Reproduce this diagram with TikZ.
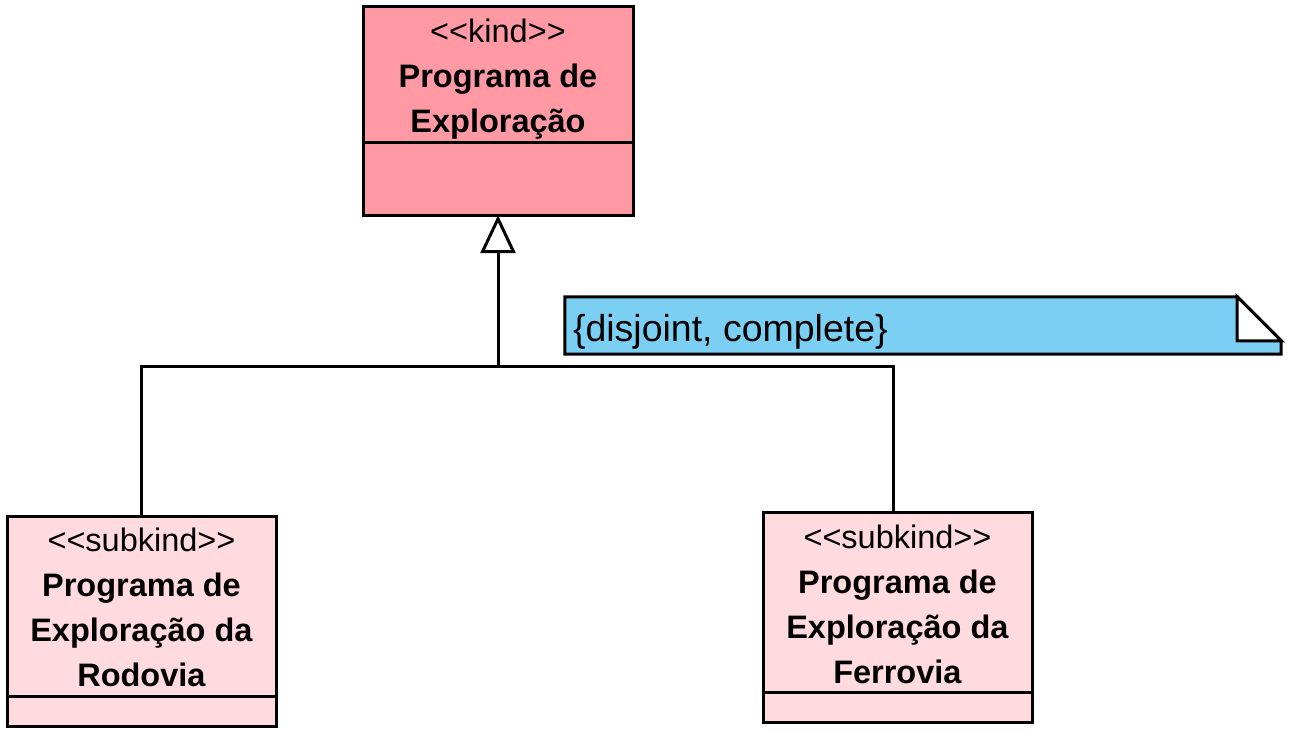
\documentclass[tikz,border=0pt]{standalone}
\usepackage{fontspec}
\setmainfont{Liberation Sans}
\usetikzlibrary{positioning, arrows.meta}
\definecolor{kindred}{RGB}{255,153,163}
\definecolor{subkindpink}{RGB}{255,218,222}
\definecolor{noteblue}{RGB}{122,207,242}
\newcommand{\stereo}[1]{<\kern0pt<#1>\kern0pt>}
\tikzstyle{kindname} = [rectangle, minimum width=270pt, minimum height=135pt, align=center, draw=black, line width=3pt, outer sep=0pt, fill=kindred, font=\fontsize{32.5}{45}\selectfont]
\tikzstyle{kindattr} = [rectangle, minimum width=270pt, minimum height=73pt, draw=black, line width=3pt, outer sep=0pt, fill=kindred]
\tikzstyle{subname} = [rectangle, minimum width=269pt, minimum height=180pt, align=center, draw=black, line width=3pt, outer sep=0pt, fill=subkindpink, font=\fontsize{32.5}{45}\selectfont]
\tikzstyle{subattr} = [rectangle, minimum width=269pt, minimum height=30pt, draw=black, line width=3pt, outer sep=0pt, fill=subkindpink]
\tikzstyle{notebox} = [rectangle, minimum width=716pt, minimum height=57pt, inner sep=0pt]
\tikzstyle{line} = [line width=3pt]
\tikzstyle{gen} = [line width=3pt, -{Triangle[open, length=38pt, width=35pt]}]

\begin{document}
\begin{tikzpicture}[x=1pt, y=-1pt, node distance=0pt]
		\useasboundingbox (0,0) rectangle (1296,738);
		
		% Nodes
		\node (kind) [kindname] at (498,74.5) {\rule{0pt}{32pt}\stereo{kind}\\ \textbf{Programa de}\\ \textbf{Exploração}};
		\node (kindbody) [kindattr, below=of kind] {};
		\node (rodovia) [subname] at (141.5,606) {\rule{0pt}{27pt}\stereo{subkind}\\ \textbf{Programa de}\\ \textbf{Exploração da}\\ \textbf{Rodovia}};
		\node (rodoviabody) [subattr, below=of rodovia] {};
		\node (ferrovia) [subname] at (897.5,602.5) {\rule{0pt}{27pt}\stereo{subkind}\\ \textbf{Programa de}\\ \textbf{Exploração da}\\ \textbf{Ferrovia}};
		\node (ferroviabody) [subattr, below=of ferrovia] {};
		\coordinate (junction) at (498,366);
		
		% Note
		\node (note) [notebox] at (923,325.5) {};
		\draw [line, fill=noteblue] (note.north west) -- ([xshift=-44pt]note.north east) -- ([yshift=-44pt]note.north east) -- (note.south east) -- (note.south west) -- cycle;
		\draw [line, fill=white] ([xshift=-44pt]note.north east) -- ([yshift=-44pt]note.north east) -| cycle;
		\node (constraint) [anchor=west, inner sep=0pt, font=\fontsize{37.5}{40}\selectfont] at ([xshift=8pt,yshift=-6pt]note.west) {\{disjoint, complete\}};
		
		% Arrows
		\draw [gen] (junction) -- (kindbody.south);
		\draw [line] (rodovia.north) |- (junction) -| ([xshift=-4.5pt]ferrovia.north);
		
	\end{tikzpicture}
\end{document}
